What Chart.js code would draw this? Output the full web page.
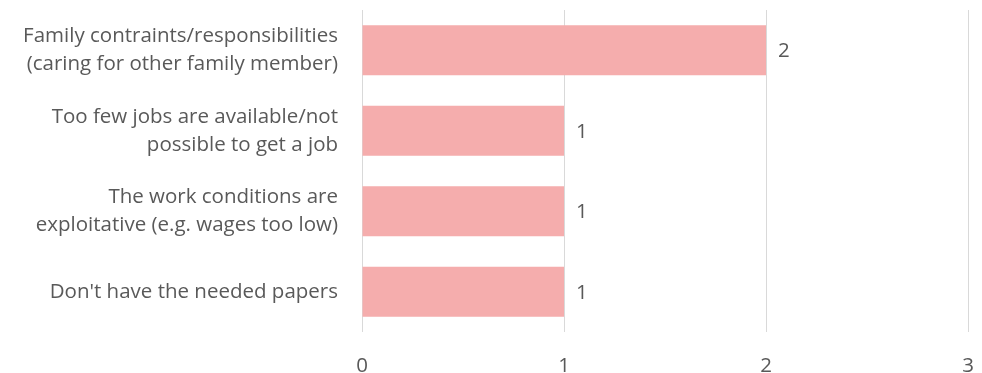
<!DOCTYPE html>
<html>
<head>
<meta charset="utf-8">
<script src="https://cdn.jsdelivr.net/npm/chart.js@4/dist/chart.umd.min.js"></script>
<style>
  html, body { margin: 0; padding: 0; background: #ffffff; }
  #wrap { width: 982px; height: 373px; position: relative; }
</style>
</head>
<body>
<div id="wrap"><canvas id="chart"></canvas></div>
<script>
// Reasons given, one wrapped label per bar
const categories = [
  ["Family contraints/responsibilities", "(caring for other family member)"],
  ["Too few jobs are available/not", "possible to get a job"],
  ["The work conditions are", "exploitative (e.g. wages too low)"],
  ["Don't have the needed papers"]
];
const counts = [2, 1, 1, 1];
const axisTicks = [0, 1, 2, 3];

const textColor = '#595959';
const fontFamily = "'Open Sans', 'Noto Sans', sans-serif";
const fontSize = 20.5;

// Writes each bar's value just past its end
const valueLabels = {
  id: 'valueLabels',
  afterDatasetsDraw(chart) {
    const { ctx } = chart;
    const meta = chart.getDatasetMeta(0);
    ctx.save();
    ctx.fillStyle = textColor;
    ctx.font = fontSize + 'px ' + fontFamily;
    ctx.textAlign = 'left';
    ctx.textBaseline = 'middle';
    meta.data.forEach((bar, i) => {
      ctx.fillText(String(counts[i]), bar.x + 12, bar.y + 1);
    });
    ctx.restore();
  }
};

new Chart(document.getElementById('chart'), {
  type: 'bar',
  data: {
    labels: categories,
    datasets: [{
      data: counts,
      backgroundColor: '#F5ADAD',
      borderWidth: 0,
      categoryPercentage: 0.62,
      barPercentage: 1
    }]
  },
  options: {
    indexAxis: 'y',
    responsive: true,
    maintainAspectRatio: false,
    animation: false,
    layout: { padding: { top: 10, right: 14, left: 0, bottom: 0 } },
    plugins: {
      legend: { display: false },
      tooltip: { enabled: false }
    },
    scales: {
      x: {
        min: 0,
        max: 3,
        afterBuildTicks(scale) { scale.ticks = axisTicks.map(v => ({ value: v })); },
        grid: { color: '#D9D9D9', lineWidth: 1, drawTicks: false, tickLength: 0 },
        border: { display: false },
        ticks: {
          color: textColor,
          font: { family: fontFamily, size: fontSize },
          padding: 22
        },
        afterFit(scale) {
          scale.height = 41;
          scale.paddingLeft = 0;
          scale.paddingRight = 0;
        }
      },
      y: {
        grid: { display: false, drawTicks: false, tickLength: 0 },
        border: { display: false },
        ticks: {
          color: textColor,
          font: { family: fontFamily, size: fontSize, lineHeight: 1.37 },
          padding: 24
        },
        afterFit(scale) {
          scale.width = 362;
          scale.paddingTop = 0;
          scale.paddingBottom = 0;
        }
      }
    }
  },
  plugins: [valueLabels]
});
</script>
</body>
</html>
